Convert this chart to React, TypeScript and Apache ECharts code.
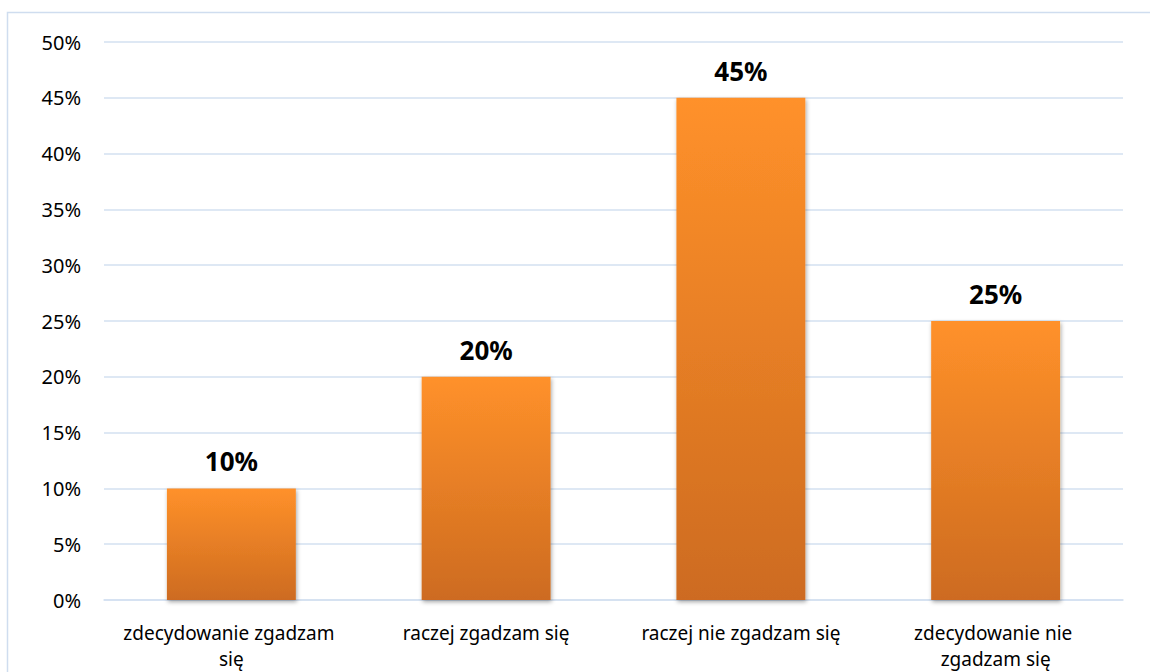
import React, { useEffect, useRef } from "react";
import * as echarts from "echarts";

const categories = [
  "zdecydowanie zgadzam się",
  "raczej zgadzam się",
  "raczej nie zgadzam się",
  "zdecydowanie nie zgadzam się",
];
const values = [10, 20, 45, 25];
const yTicks = { min: 0, max: 50, interval: 5 };

export default function App() {
  const ref = useRef<HTMLDivElement>(null);
  useEffect(() => {
    if (!ref.current) return;
    const chart = echarts.init(ref.current, null, { renderer: "svg" });
    const font = "'Noto Sans', 'Open Sans', sans-serif";
    chart.setOption({
      animation: false,
      backgroundColor: "#ffffff",
      graphic: [
        {
          type: "rect",
          silent: true,
          shape: { x: 7.5, y: 12.5, width: 1300, height: 800 },
          style: { fill: "none", stroke: "#CFDDEF", lineWidth: 1.5 },
        },
      ],
      grid: { left: 104, right: 27, top: 42, bottom: 71 },
      xAxis: {
        type: "category",
        data: categories,
        axisTick: { show: false },
        axisLine: { show: true, lineStyle: { color: "#D3E0F1", width: 1.5 } },
        axisLabel: {
          color: "#000000",
          fontFamily: font,
          fontSize: 19,
          lineHeight: 26,
          margin: 20,
          width: 240,
          overflow: "break",
          interval: 0,
        },
      },
      yAxis: {
        type: "value",
        min: yTicks.min,
        max: yTicks.max,
        interval: yTicks.interval,
        axisLine: { show: false },
        axisTick: { show: false },
        splitLine: { lineStyle: { color: "#D3E0F1", width: 1.5 } },
        axisLabel: {
          color: "#000000",
          fontFamily: font,
          fontSize: 20,
          margin: 23,
          formatter: (v: number) => `${v}%`,
        },
      },
      series: [
        {
          type: "bar",
          data: values,
          barWidth: "50.6%",
          itemStyle: {
            color: new echarts.graphic.LinearGradient(0, 0, 0, 1, [
              { offset: 0, color: "#FF912A" },
              { offset: 1, color: "#CD6B20" },
            ]),
            shadowColor: "rgba(0,0,0,0.35)",
            shadowBlur: 4,
            shadowOffsetX: 1,
            shadowOffsetY: 2,
          },
          label: {
            show: true,
            position: "top",
            distance: 14,
            color: "#000000",
            fontFamily: font,
            fontWeight: "bold",
            fontSize: 26,
            formatter: (p: any) => `${p.value}%`,
          },
        },
      ],
    });
    return () => chart.dispose();
  }, []);
  return (
    <div
      ref={ref}
      style={{ position: "absolute", left: 0, top: 0, width: 1150, height: 672 }}
    />
  );
}
